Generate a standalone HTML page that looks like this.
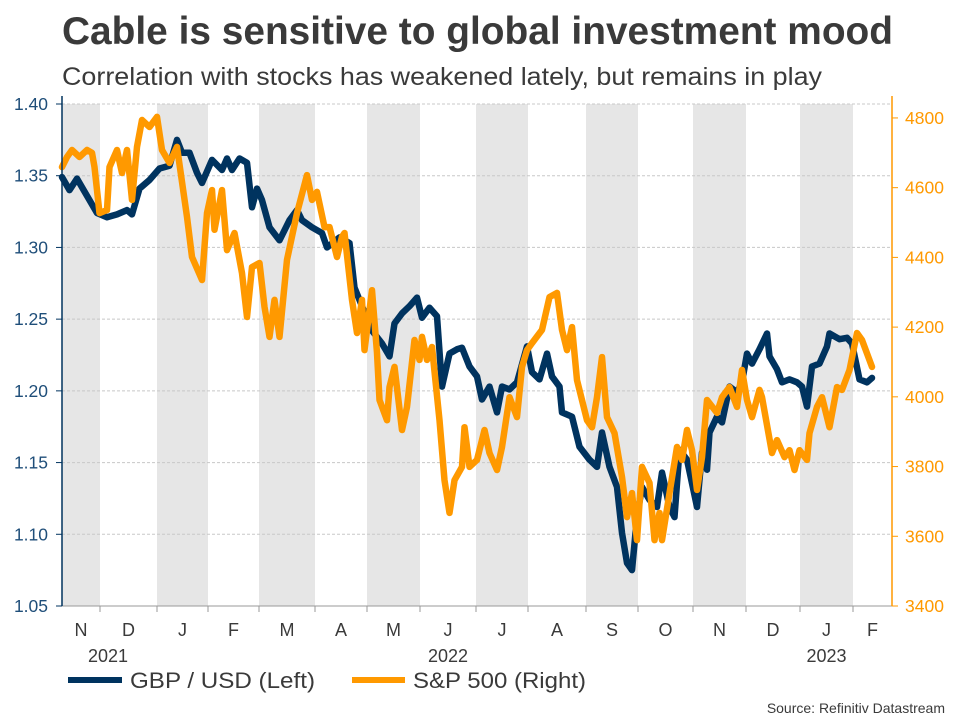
<!DOCTYPE html>
<html><head><meta charset="utf-8">
<style>
body{margin:0;background:#fff;font-family:"Liberation Sans",Arial,sans-serif;}
#wrap{position:relative;width:960px;height:720px;overflow:hidden;}
svg text{font-family:"Liberation Sans",Arial,sans-serif;}
</style></head><body>
<div id="wrap">
<svg id="chart" width="960" height="720">
<text x="62" y="44" font-size="38.5" font-weight="bold" fill="#3a3a3a" textLength="831" lengthAdjust="spacingAndGlyphs">Cable is sensitive to global investment mood</text>
<text x="62" y="85" font-size="25" fill="#3a3a3a" textLength="760" lengthAdjust="spacingAndGlyphs">Correlation with stocks has weakened lately, but remains in play</text>
<g id="bands"></g>
<g id="grid"></g>
<g id="series"></g>
<g id="axes"></g>
<g>
<line x1="68" y1="680" x2="122" y2="680" stroke="#00335f" stroke-width="6"/>
<text x="130" y="688" font-size="22" fill="#3a3a3a" textLength="185" lengthAdjust="spacingAndGlyphs">GBP / USD (Left)</text>
<line x1="352" y1="680" x2="405" y2="680" stroke="#ff9900" stroke-width="6"/>
<text x="413" y="688" font-size="22" fill="#3a3a3a" textLength="173" lengthAdjust="spacingAndGlyphs">S&amp;P 500 (Right)</text>
</g>
<text x="945" y="713" font-size="14" fill="#3a3a3a" text-anchor="end">Source: Refinitiv Datastream</text>
</svg>
</div>
<script>
const gbpT=[0,3,6,8,11,14,18,22,26,28,31,35,39,43,46,48,51,54,56,60,64,66,68,71,74,76,78,80,83,87,91,94,96,100,104,106,111,115,117,120,124,128,131,133,136,139,142,144,147,150,152,155,158,160,163,166,168,171,174,176,179,182,186,188,191,194,196,199,200,204,207,211,214,216,219,222,224,226,228,230,232,235,238,240,243,245,247,250,254,256,258,259,262,264,267,270,272,274,276,279,282,283,286,288,291,294,296,298,300,303,306,307,311,314,316,319,322,324];
const gbpV=[1.349,1.340,1.348,1.342,1.333,1.324,1.321,1.323,1.326,1.323,1.341,1.347,1.355,1.357,1.375,1.366,1.366,1.352,1.345,1.361,1.354,1.362,1.354,1.362,1.359,1.328,1.341,1.333,1.314,1.305,1.319,1.326,1.319,1.314,1.310,1.300,1.307,1.303,1.272,1.259,1.242,1.233,1.224,1.247,1.254,1.259,1.265,1.251,1.258,1.252,1.203,1.226,1.229,1.230,1.217,1.210,1.194,1.203,1.185,1.203,1.201,1.206,1.231,1.213,1.208,1.226,1.210,1.203,1.185,1.182,1.161,1.152,1.147,1.171,1.147,1.133,1.101,1.080,1.075,1.112,1.133,1.124,1.119,1.143,1.119,1.112,1.159,1.152,1.119,1.157,1.145,1.171,1.182,1.178,1.203,1.199,1.206,1.226,1.219,1.229,1.240,1.224,1.215,1.206,1.208,1.206,1.203,1.189,1.217,1.219,1.231,1.240,1.236,1.237,1.233,1.208,1.206,1.209];
const spxT=[0,2,4,7,10,12,13,15,18,19,22,24,26,28,30,32,35,38,40,43,46,50,52,56,58,60,61,64,66,69,72,74,76,79,81,83,85,87,90,94,98,100,102,105,107,110,112,113,116,118,120,121,124,126,127,130,131,133,136,138,141,143,144,146,148,151,153,155,157,160,161,163,166,169,171,174,176,179,182,184,186,188,192,195,198,200,202,204,206,210,212,214,216,218,221,224,226,228,230,232,235,237,239,240,243,246,248,250,252,254,256,258,262,264,267,270,272,274,276,279,280,284,286,289,291,293,295,298,299,302,304,307,310,312,315,318,320,324];
const spxV=[4659,4688,4708,4688,4708,4700,4659,4527,4536,4659,4708,4642,4708,4565,4717,4794,4774,4803,4708,4671,4717,4516,4401,4335,4527,4593,4479,4593,4421,4470,4355,4229,4372,4384,4258,4172,4278,4172,4393,4527,4636,4565,4588,4487,4487,4401,4459,4470,4278,4183,4278,4134,4306,4126,3991,3933,4028,4086,3905,3971,4163,4106,4172,4106,4143,3933,3761,3667,3761,3799,3913,3799,3819,3905,3839,3790,3856,3999,3942,4086,4134,4154,4192,4286,4298,4192,4134,4200,4048,3933,3913,3999,4114,3942,3896,3770,3655,3724,3589,3799,3753,3589,3667,3589,3724,3856,3819,3905,3847,3733,3827,3991,3954,3999,4028,3971,4077,3991,3942,4020,3999,3839,3876,3827,3847,3790,3847,3819,3896,3971,3999,3913,4028,4020,4077,4183,4163,4086];
const monthStarts=[-15,15.2,38,58.4,78.8,101.2,122,143.2,165.6,186.4,209.6,230.4,252.4,273.6,295.2,316.4,332];
const monthLabels=["N","D","J","F","M","A","M","J","J","A","S","O","N","D","J","F"];
const leftTicks=[1.05,1.10,1.15,1.20,1.25,1.30,1.35,1.40];
const rightTicks=[3400,3600,3800,4000,4200,4400,4600,4800];
const yearLabels=[{m:0,t:"2021"},{m:7,t:"2022"},{m:14,t:"2023"}];

const X0=62,X1=892,Y0=606,Y1=104;
const xs=t=>X0+(t-0)*(X1-X0)/332;
const yl=v=>Y0-(v-1.05)*(Y0-Y1)/0.35;
const yr=v=>Y0-(v-3400)*(Y0-Y1)/(4840-3400);
const NS="http://www.w3.org/2000/svg";
function mk(tag,attrs,parent,txt){const e=document.createElementNS(NS,tag);for(const k in attrs)e.setAttribute(k,attrs[k]);if(txt!==undefined)e.textContent=txt;parent.appendChild(e);return e;}
const bands=document.getElementById('bands'),grid=document.getElementById('grid'),series=document.getElementById('series'),axes=document.getElementById('axes');
for(let i=0;i<monthLabels.length;i++){
  const a=Math.max(X0,xs(monthStarts[i])),b=Math.min(X1,xs(monthStarts[i+1]));
  if(i%2===0){const r=mk('rect',{x:a,y:Y1,width:b-a,height:Y0-Y1,fill:'#e6e6e6'},bands);
    
    }
  const l=mk('text',{x:(a+b)/2,y:636,'font-size':18,fill:'#3a3a3a','text-anchor':'middle'},axes,monthLabels[i]);
  
  
  if(i>0){const tk=mk('line',{x1:a,x2:a,y1:Y0,y2:Y0+6,stroke:'#999','stroke-width':1},axes);
    
    }
}
yearLabels.forEach(y=>{const a=Math.max(X0,xs(monthStarts[y.m])),b=Math.min(X1,xs(monthStarts[y.m+1]));
  const l=mk('text',{x:(a+b)/2+(y.m===0?27:0),y:662,'font-size':18,fill:'#3a3a3a','text-anchor':'middle'},axes,y.t);
  
  });
leftTicks.forEach(v=>{const y=yl(v);
  if(v>1.05){const g=mk('line',{x1:X0,x2:X1,y1:y,y2:y,stroke:'#c8c8c8','stroke-dasharray':'3,2','stroke-width':1},grid);
    
    }
  const l=mk('text',{x:48,y:y+6,'font-size':17.5,fill:'#1f4e79','text-anchor':'end'},axes,v.toFixed(2));
  
  
  const tk=mk('line',{x1:X0-6,x2:X0,y1:y,y2:y,stroke:'#00335f'},axes);
  
  });
rightTicks.forEach(v=>{const y=yr(v);
  const l=mk('text',{x:905,y:y+6,'font-size':17.5,fill:'#ff9900'},axes,String(v));
  
  
  const tk=mk('line',{x1:X1,x2:X1+6,y1:y,y2:y,stroke:'#ff9900'},axes);
  
  });
const xa=mk('line',{x1:X0,x2:X1,y1:Y0,y2:Y0,stroke:'#999'},axes);


const la=mk('line',{x1:X0,x2:X0,y1:Y1-8,y2:Y0,stroke:'#00335f','stroke-width':1.5},axes);


const ra=mk('line',{x1:X1,x2:X1,y1:Y1-8,y2:Y0,stroke:'#ff9900','stroke-width':1.5},axes);


const gp=mk('path',{d:gbpT.map((t,i)=>(i?'L':'M')+xs(t).toFixed(1)+','+yl(gbpV[i]).toFixed(1)).join(''),fill:'none',stroke:'#00335f','stroke-width':6.5,'stroke-linejoin':'round','stroke-linecap':'round'},series);


const sp=mk('path',{d:spxT.map((t,i)=>(i?'L':'M')+xs(t).toFixed(1)+','+yr(spxV[i]).toFixed(1)).join(''),fill:'none',stroke:'#ff9900','stroke-width':6.5,'stroke-linejoin':'round','stroke-linecap':'round'},series);


</script>
</body></html>
